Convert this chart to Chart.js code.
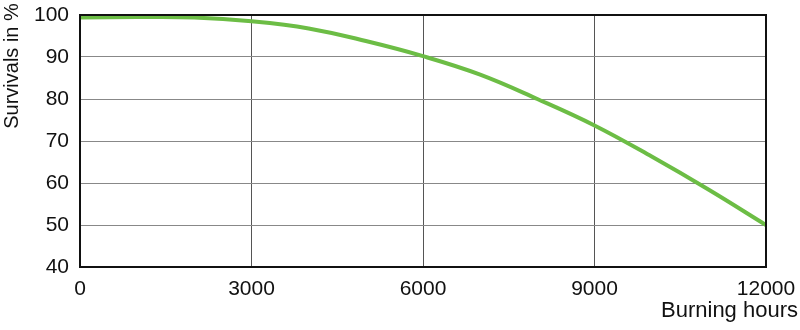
<!DOCTYPE html>
<html>
<head>
<meta charset="utf-8">
<script src="https://cdn.jsdelivr.net/npm/chart.js@4.4.1/dist/chart.umd.min.js"></script>
<style>
  html, body { margin: 0; padding: 0; background: #fff; }
  #wrap { width: 800px; height: 330px; }
</style>
</head>
<body>
<div id="wrap"><canvas id="chart" width="800" height="330"></canvas></div>
<script>
// Werte
const hours = [0, 1000, 2000, 3000, 4000, 5000, 6000, 7000, 8000, 9000, 10000, 11000, 12000];
const survivals = [99.4, 99.5, 99.4, 98.5, 96.8, 93.8, 90.2, 85.8, 80.0, 73.7, 66.3, 58.4, 50.0];
const yTicks = [40, 50, 60, 70, 80, 90, 100];
const xTicks = [0, 3000, 6000, 9000, 12000];
const yTitle = 'Survivals in %';
const xTitle = 'Burning hours';

const FONT = 'Arial, "Liberation Sans", sans-serif';

// Rahmen und Achsentitel
const frame = {
    id: 'frame',
    afterDraw(chart) {
        const { ctx, chartArea: a } = chart;
        ctx.save();
        ctx.strokeStyle = '#111';
        ctx.lineWidth = 2;
        ctx.strokeRect(a.left, a.top, a.right - a.left, a.bottom - a.top);

        ctx.fillStyle = '#111';
        ctx.font = '22px ' + FONT;
        ctx.textAlign = 'right';
        ctx.textBaseline = 'alphabetic';
        ctx.fillText(xTitle, 798, 317);

        ctx.font = '20px ' + FONT;
        ctx.translate(18, 66);
        ctx.rotate(-Math.PI / 2);
        ctx.textAlign = 'center';
        ctx.fillText(yTitle, 0, 0);
        ctx.restore();
    }
};

new Chart(document.getElementById('chart'), {
    type: 'line',
    data: {
        datasets: [{
            data: hours.map((h, i) => ({ x: h, y: survivals[i] })),
            borderColor: '#6cbd45',
            borderWidth: 4,
            pointRadius: 0,
            tension: 0.4,
            fill: false
        }]
    },
    options: {
        responsive: false,
        animation: false,
        events: [],
        layout: { padding: { top: 15, right: 34, left: 0, bottom: 0 } },
        plugins: {
            legend: { display: false },
            tooltip: { enabled: false }
        },
        scales: {
            x: {
                type: 'linear',
                min: 0,
                max: 12000,
                afterFit(scale) {
                    scale.height = 63;
                    scale.paddingLeft = 0;
                    scale.paddingRight = 0;
                },
                afterBuildTicks(scale) { scale.ticks = xTicks.map(v => ({ value: v })); },
                border: { display: false },
                grid: { color: '#555', lineWidth: 1, drawTicks: false },
                ticks: {
                    padding: 10,
                    color: '#111',
                    font: { family: FONT, size: 21 },
                    maxRotation: 0,
                    callback: v => String(v)
                }
            },
            y: {
                min: 40,
                max: 100,
                afterFit(scale) {
                    scale.width = 80;
                    scale.paddingTop = 0;
                    scale.paddingBottom = 0;
                },
                afterBuildTicks(scale) { scale.ticks = yTicks.map(v => ({ value: v })); },
                border: { display: false },
                grid: { color: '#888', lineWidth: 1, drawTicks: false },
                ticks: {
                    padding: 11,
                    color: '#111',
                    font: { family: FONT, size: 21 }
                }
            }
        }
    },
    plugins: [frame]
});
</script>
</body>
</html>
